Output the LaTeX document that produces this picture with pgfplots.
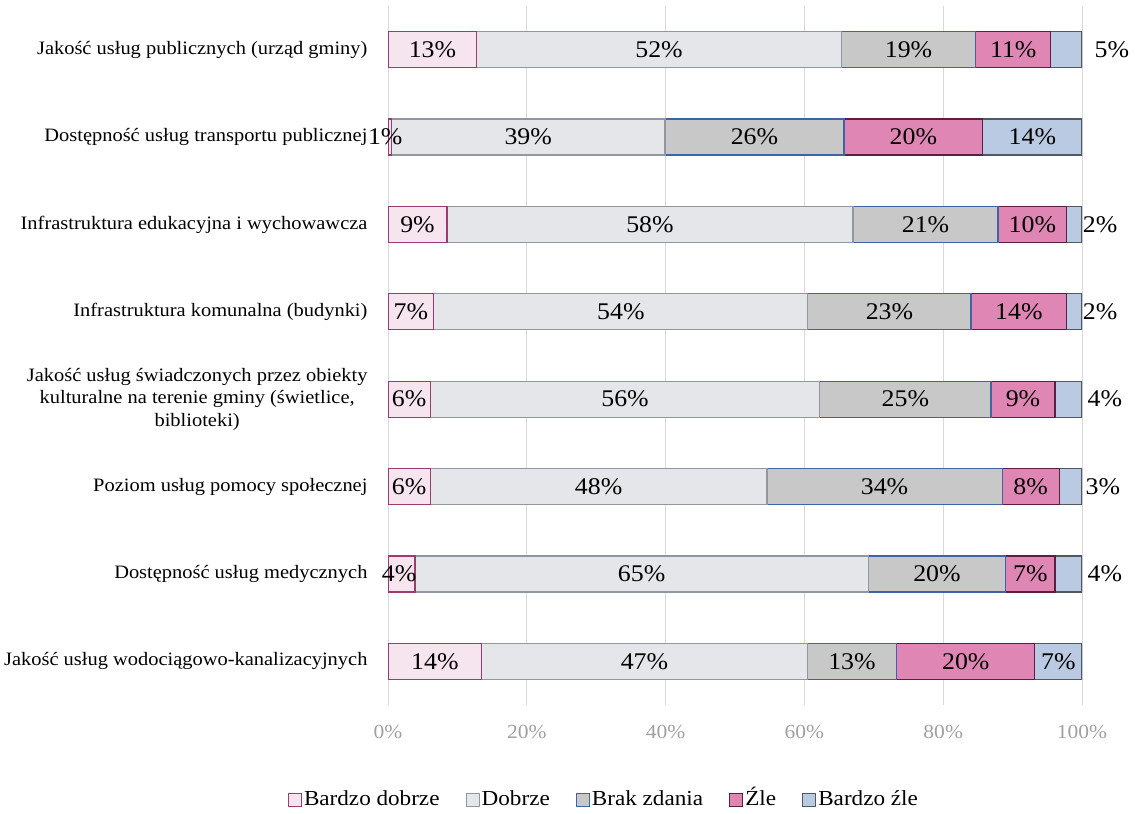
\documentclass[border=0pt]{standalone}
\usepackage{fontspec}
\setmainfont[FakeStretch=1.08]{Liberation Serif}
\usepackage{pgfplots}
\pgfplotsset{compat=1.18}
\usepackage{pgfplotstable}
\definecolor{c1f}{HTML}{F6E4EE}
\definecolor{c1d}{HTML}{9E3A70}
\definecolor{c2f}{HTML}{E5E6E9}
\definecolor{c2d}{HTML}{8F979F}
\definecolor{c3f}{HTML}{C8C8C8}
\definecolor{c3d}{HTML}{3F63A6}
\definecolor{c4f}{HTML}{E086B5}
\definecolor{c4d}{HTML}{5E1E40}
\definecolor{c5f}{HTML}{BACAE3}
\definecolor{c5d}{HTML}{4F5964}
\definecolor{gridc}{HTML}{D9D9D9}
\definecolor{tickc}{HTML}{A0A0A0}
\pgfplotstableread{
y a b c d e
0 12.8 52.5 19.4 10.8 4.5
1 0.5 39.4 25.8 20.0 14.3
2 8.5 58.5 20.9 9.9 2.2
3 6.6 53.9 23.5 13.8 2.2
4 6.1 56.1 24.7 9.2 3.9
5 6.1 48.5 33.9 8.2 3.3
6 3.9 65.3 19.8 7.1 3.9
7 13.5 46.9 12.9 19.9 6.8
}\data
\pgfplotstableread{
x y lab
6.4 0 13
39.05 0 52
75.0 0 19
90.1 0 11
104.3 0 5
-0.4 1 1
20.2 1 39
52.8 1 26
75.7 1 20
92.85 1 14
4.25 2 9
37.75 2 58
77.45 2 21
92.85 2 10
102.6 2 2
3.3 3 7
33.55 3 54
72.25 3 23
90.9 3 14
102.6 3 2
3.05 4 6
34.15 4 56
74.55 4 25
91.5 4 9
103.3 4 4
3.05 5 6
30.35 5 48
71.55 5 34
92.6 5 8
103.0 5 3
1.6 6 4
36.55 6 65
79.1 6 20
92.55 6 7
103.3 6 4
6.75 7 14
36.95 7 47
66.85 7 13
83.25 7 20
96.6 7 7
}\labels
\begin{document}
\begin{tikzpicture}
\path[use as bounding box] (0,0) rectangle (1135bp,814bp);
\begin{axis}[
  at={(388bp,109bp)}, anchor=south west,
  width=694bp, height=699bp, scale only axis,
  xbar stacked, bar width=36bp,
  xmin=0, xmax=100, ymin=-0.5, ymax=7.5, y dir=reverse,
  /pgf/number format/assume math mode=true,
  xtick={0,20,...,100}, xticklabel={\pgfmathprintnumber{\tick}\%},
  ytick={0,...,7},
  yticklabels={Jakość usług publicznych (urząd gminy),
    Dostępność usług transportu publicznej,
    Infrastruktura edukacyjna i wychowawcza,
    Infrastruktura komunalna (budynki),
    {Jakość usług świadczonych przez obiekty\\kulturalne na terenie gminy (świetlice,\\biblioteki)},
    Poziom usług pomocy społecznej,
    Dostępność usług medycznych,
    Jakość usług wodociągowo-kanalizacyjnych},
  axis line style={draw=none}, major tick length=0pt,
  xmajorgrids, grid style={gridc, line width=1bp},
  x tick label style={tickc, font=\fontsize{20}{23}\selectfont, yshift=-17bp},
  y tick label style={font=\fontsize{19}{22.5}\selectfont, align=center, xshift=-17bp},
  legend columns=5,
  legend style={at={(0.311,-0.136)}, anchor=center, draw=none, font=\fontsize{21.5}{24}\selectfont,
    nodes={text height=16bp, text depth=5bp},
    /tikz/every even column/.append style={column sep=24bp}},
  legend image code/.code={\draw[#1, line width=1.2bp] (0bp,-6.5bp) rectangle (13bp,6.5bp);},
]
\addplot[fill=c1f, draw=c1d, line width=1.2bp] table[x=a, y=y] {\data};
\addplot[fill=c2f, draw=c2d, line width=1.2bp] table[x=b, y=y] {\data};
\addplot[fill=c3f, draw=c3d, line width=1.2bp] table[x=c, y=y] {\data};
\addplot[fill=c4f, draw=c4d, line width=1.2bp] table[x=d, y=y] {\data};
\addplot[fill=c5f, draw=c5d, line width=1.2bp] table[x=e, y=y] {\data};
\legend{Bardzo dobrze, Dobrze, Brak zdania, Źle, Bardzo źle}
\end{axis}
\begin{axis}[
  at={(388bp,109bp)}, anchor=south west,
  width=694bp, height=699bp, scale only axis,
  xmin=0, xmax=100, ymin=-0.5, ymax=7.5, y dir=reverse,
  hide axis, clip=false,
  /pgf/number format/assume math mode=true,
]
\addplot[only marks, mark=none, point meta=explicit,
  nodes near coords={\pgfmathprintnumber{\pgfplotspointmeta}\%},
  nodes near coords style={anchor=center, text=black, font=\fontsize{24}{26}\selectfont}]
  table[x=x, y=y, meta=lab] {\labels};
\end{axis}
\end{tikzpicture}
\end{document}
